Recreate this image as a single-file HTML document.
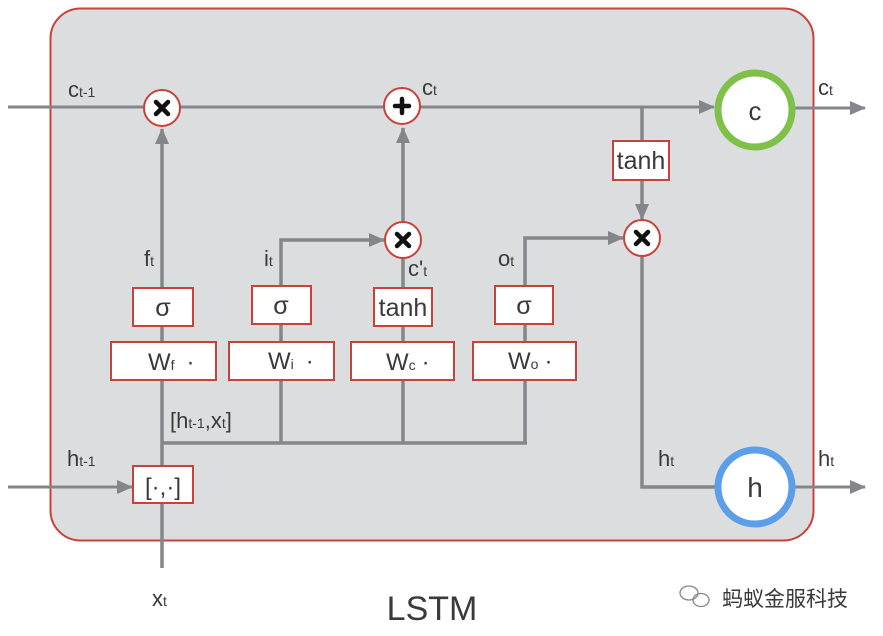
<!DOCTYPE html>
<html><head><meta charset="utf-8"><style>
html,body{margin:0;padding:0;background:#fff;}
svg{display:block;}
text{font-family:"Liberation Sans","Noto Sans CJK SC",sans-serif;fill:#3a3a3a;}
</style></head><body>
<svg width="883" height="636" viewBox="0 0 883 636" xmlns="http://www.w3.org/2000/svg">
<defs>
<marker id="a" markerWidth="16" markerHeight="16" refX="15" refY="8" orient="auto" markerUnits="userSpaceOnUse" viewBox="0 0 16 16">
<path d="M0,1 L16,8 L0,15 z" fill="#85868a"/></marker>
</defs>
<rect x="50.5" y="8.5" width="763" height="532" rx="30" fill="#dcdddf" stroke="#c8423a" stroke-width="2"/>
<g stroke="#85868a" stroke-width="3.5" fill="none">
<line x1="8" y1="107" x2="714" y2="107" marker-end="url(#a)" stroke-width="3"/>
<line x1="792" y1="108" x2="865" y2="108" marker-end="url(#a)" stroke-width="3"/>
<line x1="162" y1="290" x2="162" y2="129" marker-end="url(#a)"/>
<line x1="403" y1="222" x2="403" y2="128" marker-end="url(#a)"/>
<line x1="403" y1="288" x2="403" y2="258"/>
<polyline points="281,288 281,240 384,240" marker-end="url(#a)"/>
<polyline points="525,288 525,238 623,238" marker-end="url(#a)"/>
<line x1="642" y1="107" x2="642" y2="141"/>
<line x1="642" y1="180" x2="642" y2="219" marker-end="url(#a)"/>
<polyline points="642,257 642,487 718,487"/>
<line x1="793" y1="487" x2="865" y2="487" marker-end="url(#a)" stroke-width="3"/>
<line x1="162" y1="326" x2="162" y2="342"/>
<line x1="281" y1="324" x2="281" y2="342"/>
<line x1="403" y1="326" x2="403" y2="342"/>
<line x1="525" y1="324" x2="525" y2="342"/>
<line x1="162" y1="380" x2="162" y2="466"/>
<line x1="281" y1="380" x2="281" y2="443"/>
<line x1="403" y1="380" x2="403" y2="443"/>
<line x1="525" y1="380" x2="525" y2="443"/>
<line x1="162" y1="443" x2="527" y2="443"/>
<line x1="8" y1="487" x2="132" y2="487" marker-end="url(#a)" stroke-width="3"/>
<line x1="162" y1="503" x2="162" y2="568"/>
</g>
<g fill="#fff" stroke="#c8423a" stroke-width="2">
<circle cx="162" cy="108" r="18"/>
<circle cx="402" cy="106" r="18"/>
<circle cx="403" cy="240" r="18"/>
<circle cx="642" cy="238" r="18"/>
</g>
<g stroke="#111" stroke-width="4.5" stroke-linecap="round">
<path d="M156,102 L168,114 M168,102 L156,114"/>
<path d="M397,234 L409,246 M409,234 L397,246"/>
<path d="M636,232 L648,244 M648,232 L636,244"/>
<path d="M402,99 L402,113 M395,106 L409,106"/>
</g>
<circle cx="755" cy="110" r="37" fill="#fff" stroke="#7ec048" stroke-width="7"/>
<circle cx="755" cy="487" r="37" fill="#fff" stroke="#5c9ee8" stroke-width="7"/>
<text x="755" y="120" font-size="26" text-anchor="middle">c</text>
<text x="755" y="497" font-size="28" text-anchor="middle">h</text>
<g fill="#fff" stroke="#c8423a" stroke-width="2">
<rect x="133" y="288" width="60" height="38"/>
<rect x="252" y="286" width="59" height="38"/>
<rect x="374" y="288" width="58" height="38"/>
<rect x="495" y="286" width="58" height="38"/>
<rect x="111" y="342" width="105" height="38"/>
<rect x="229" y="342" width="105" height="38"/>
<rect x="351" y="342" width="103" height="38"/>
<rect x="473" y="342" width="103" height="38"/>
<rect x="133" y="466" width="60" height="37"/>
<rect x="613" y="141" width="56" height="39"/>
</g>
<g font-size="25" text-anchor="middle">
<text x="163" y="316">σ</text>
<text x="281" y="314">σ</text>
<text x="403" y="316">tanh</text>
<text x="524" y="314">σ</text>
<text x="641" y="169">tanh</text>
<text x="163" y="495" font-size="24">[·,·]</text>
</g>
<g font-size="24">
<text x="148" y="370">W<tspan font-size="14">f</tspan><tspan dx="12">·</tspan></text>
<text x="268" y="369">W<tspan font-size="14">i</tspan><tspan dx="12">·</tspan></text>
<text x="386" y="370">W<tspan font-size="14">c</tspan><tspan dx="6">·</tspan></text>
<text x="508" y="369">W<tspan font-size="14">o</tspan><tspan dx="6">·</tspan></text>
<text x="170" y="428" font-size="22">[h<tspan font-size="14">t-1</tspan>,x<tspan font-size="14">t</tspan>]</text>
<text x="68" y="97" font-size="22">c<tspan font-size="14">t-1</tspan></text>
<text x="422" y="95" font-size="22">c<tspan font-size="14">t</tspan></text>
<text x="818" y="95" font-size="22">c<tspan font-size="14">t</tspan></text>
<text x="144" y="266" font-size="22">f<tspan font-size="14">t</tspan></text>
<text x="264" y="266" font-size="22">i<tspan font-size="14">t</tspan></text>
<text x="408" y="276" font-size="22">c'<tspan font-size="14">t</tspan></text>
<text x="498" y="266" font-size="22">o<tspan font-size="14">t</tspan></text>
<text x="67" y="466" font-size="22">h<tspan font-size="14">t-1</tspan></text>
<text x="658" y="466" font-size="22">h<tspan font-size="14">t</tspan></text>
<text x="818" y="466" font-size="22">h<tspan font-size="14">t</tspan></text>
<text x="152" y="606" font-size="22">x<tspan font-size="14">t</tspan></text>
</g>
<text x="432" y="620" font-size="34" text-anchor="middle" fill="#333">LSTM</text>
<g stroke="#888" stroke-width="1.3" fill="none">
<ellipse cx="689" cy="593" rx="9" ry="7"/>
<ellipse cx="701" cy="600" rx="8" ry="6.5"/>
</g>
<text x="722" y="606" font-size="21" fill="#555">蚂蚁金服科技</text>
</svg>
</body></html>
